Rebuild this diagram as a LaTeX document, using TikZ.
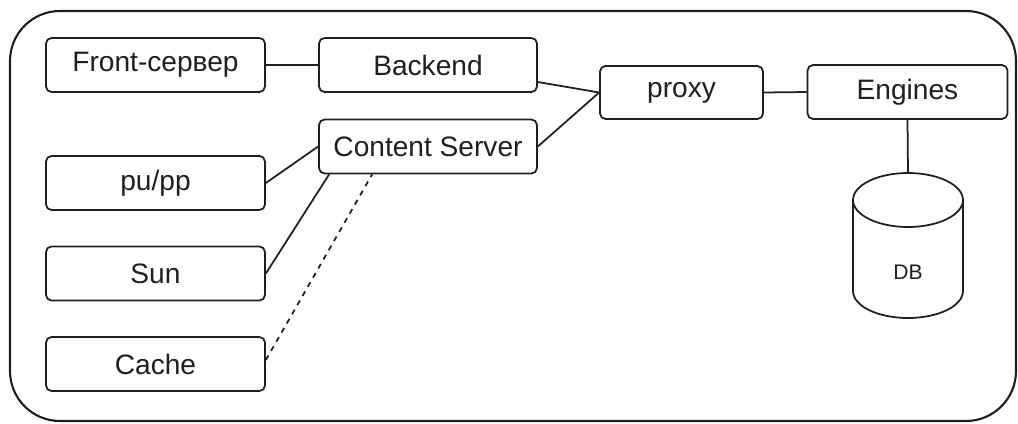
\documentclass[tikz,border=0pt]{standalone}
\usepackage{fontspec}
\setmainfont{Liberation Sans}
\begin{document}
\begin{tikzpicture}[x=0.02cm, y=-0.02cm,
  ink/.style={draw=black!88, line width=1pt},
  box/.style={ink, rectangle, rounded corners=0.11cm, inner sep=0pt,
              minimum height=1.08cm, text=black!88,
              font=\fontsize{16}{19}\selectfont},
  leftbox/.style={box, minimum width=4.38cm},
  midbox/.style={box, minimum width=4.36cm},
  link/.style={ink},
  weaklink/.style={ink, dash pattern=on 3pt off 3pt}]

  \useasboundingbox (0,0) rectangle (1018,423);

  % enclosing frame
  \draw[ink, line width=1.2pt, rounded corners=1cm] (10,11) rectangle (1016,421);

  % left column
  \node[leftbox] (front) at (155.5,65)  {Front-сервер};
  \node[leftbox] (pupp)  at (155.5,183) {pu/pp};
  \node[leftbox] (sun)   at (155.5,273.5) {Sun};
  \node[leftbox] (cache) at (155.5,364) {Cache};

  % middle column
  \node[midbox] (backend) at (428,65)    {Backend};
  \node[midbox] (content) at (428,146.5) {Content Server};

  % proxy and engines
  \node[box, minimum width=3.26cm, minimum height=1.06cm] (proxy)   at (681.5,92.5) {proxy};
  \node[box, minimum width=4.0cm,  minimum height=1.08cm] (engines) at (907.5,92)   {Engines};

  % database cylinder
  \coordinate (dbtop) at (908,173);
  \draw[ink] (853,200) -- (853,291)
             arc[start angle=180, end angle=360, x radius=1.1cm, y radius=0.54cm]
             -- (963,200);
  \draw[ink] (908,200) ellipse [x radius=1.1cm, y radius=0.54cm];
  \node[text=black!88, font=\fontsize{12}{14}\selectfont] (db) at (908,272) {DB};

  % connectors
  \draw[link] (front.east) -- (backend.west);
  \draw[link] ([yshift=-0.34cm]backend.east) -- (proxy.west);
  \draw[link] (content.east) -- (proxy.west);
  \draw[link] (proxy.east) -- (engines.west);
  \draw[link] (engines.south) -- (dbtop);
  \draw[link] (pupp.east) -- (content.west);
  \draw[link] (sun.east) -- ([xshift=0.22cm]content.south west);
  \draw[weaklink] ([yshift=0.08cm]cache.east) -- ([xshift=1.08cm]content.south west);
\end{tikzpicture}
\end{document}
